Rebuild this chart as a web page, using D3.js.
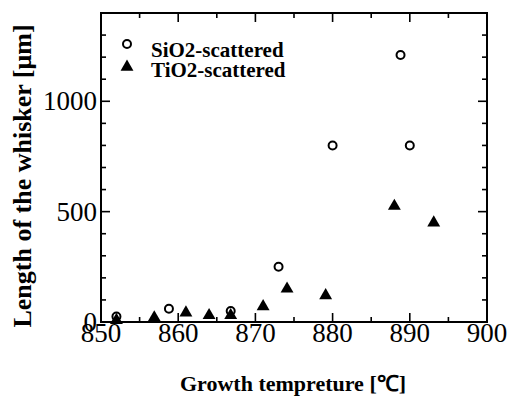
<!DOCTYPE html>
<html>
<head>
<meta charset="utf-8">
<script src="https://cdn.jsdelivr.net/npm/d3@7"></script>
<style>
  body { margin: 0; background: #fff; }
  svg text { font-family: 'Liberation Serif', 'Times New Roman', serif; fill: #000; }
</style>
</head>
<body>
<svg id="chart" width="510" height="396"></svg>
<script>
// SiO2-scattered (open circles)
const sio2Temp = [852, 858.8, 866.8, 873, 880, 888.8, 890];
const sio2Len = [25, 60, 50, 250, 800, 1210, 800];

// TiO2-scattered (filled triangles)
const tio2Temp = [852, 856.9, 861, 864, 866.8, 871, 874.1, 879.1, 888, 893.1];
const tio2Len = [8, 20, 42, 30, 30, 70, 150, 120, 525, 450];

const xTicks = [850, 860, 870, 880, 890, 900];
const yTicks = [0, 500, 1000];
const seriesNames = ['SiO2-scattered', 'TiO2-scattered'];

const margin = { top: 13, right: 23, bottom: 74, left: 101 };
const width = 510;
const height = 396;

const svg = d3.select('#chart');

const x = d3.scaleLinear().domain([850, 900]).range([margin.left, width - margin.right]);
const y = d3.scaleLinear().domain([0, 1400]).range([height - margin.bottom, margin.top]);

const x0 = x.range()[0], x1 = x.range()[1];
const y0 = y.range()[0], y1 = y.range()[1];

// frame
svg.append('rect')
  .attr('x', x0).attr('y', y1)
  .attr('width', x1 - x0).attr('height', y0 - y1)
  .attr('fill', 'none').attr('stroke', '#000').attr('stroke-width', 2);

const minorX = d3.range(850, 901, 5);
const minorY = d3.range(0, 1401, 100);
const tickG = svg.append('g').attr('stroke', '#000').attr('stroke-width', 1.6);

// x ticks, bottom and top, pointing inward
minorX.forEach((v) => {
  const len = v % 10 === 0 ? 9 : 5;
  tickG.append('line').attr('x1', x(v)).attr('x2', x(v)).attr('y1', y0).attr('y2', y0 - len);
  tickG.append('line').attr('x1', x(v)).attr('x2', x(v)).attr('y1', y1).attr('y2', y1 + len);
});

// y ticks, left and right
minorY.forEach((v) => {
  const len = v % 500 === 0 ? 9 : 5;
  tickG.append('line').attr('x1', x0).attr('x2', x0 + len).attr('y1', y(v)).attr('y2', y(v));
  tickG.append('line').attr('x1', x1).attr('x2', x1 - len).attr('y1', y(v)).attr('y2', y(v));
});

// tick labels
svg.append('g')
  .selectAll('text')
  .data(xTicks)
  .enter()
  .append('text')
  .attr('x', (d) => x(d))
  .attr('y', y0 + 20)
  .attr('text-anchor', 'middle')
  .style('font-size', '27px')
  .text((d) => d);

svg.append('g')
  .selectAll('text')
  .data(yTicks)
  .enter()
  .append('text')
  .attr('x', x0 - 4)
  .attr('y', (d) => y(d) + 9)
  .attr('text-anchor', 'end')
  .style('font-size', '27px')
  .text((d) => d);

// axis titles
svg.append('text')
  .attr('x', 293)
  .attr('y', 391)
  .attr('text-anchor', 'middle')
  .style('font-size', '22px')
  .style('font-weight', 'bold')
  .text('Growth tempreture [\u2103]');

svg.append('text')
  .attr('transform', 'translate(31,176) rotate(-90)')
  .attr('text-anchor', 'middle')
  .style('font-size', '26px')
  .style('font-weight', 'bold')
  .text('Length of the whisker [\u03bcm]');

// markers
const tri = d3.symbol().type(d3.symbolTriangle).size(72);

svg.append('g')
  .selectAll('circle')
  .data(sio2Temp.map((t, i) => [t, sio2Len[i]]))
  .enter()
  .append('circle')
  .attr('cx', (d) => x(d[0]))
  .attr('cy', (d) => y(d[1]))
  .attr('r', 4)
  .attr('fill', '#fff')
  .attr('stroke', '#000')
  .attr('stroke-width', 2);

svg.append('g')
  .selectAll('path')
  .data(tio2Temp.map((t, i) => [t, tio2Len[i]]))
  .enter()
  .append('path')
  .attr('d', tri)
  .attr('transform', (d) => `translate(${x(d[0])},${y(d[1])})`)
  .attr('fill', '#000');

// legend
const legend = svg.append('g');
legend.append('circle')
  .attr('cx', 127).attr('cy', 44).attr('r', 4)
  .attr('fill', '#fff').attr('stroke', '#000').attr('stroke-width', 2);
legend.append('path')
  .attr('d', tri)
  .attr('transform', 'translate(127,67)')
  .attr('fill', '#000');
legend.selectAll('text')
  .data(seriesNames)
  .enter()
  .append('text')
  .attr('x', 151)
  .attr('y', (d, i) => 57 + i * 20)
  .style('font-size', '21px')
  .style('font-weight', 'bold')
  .text((d) => d);
</script>
</body>
</html>
